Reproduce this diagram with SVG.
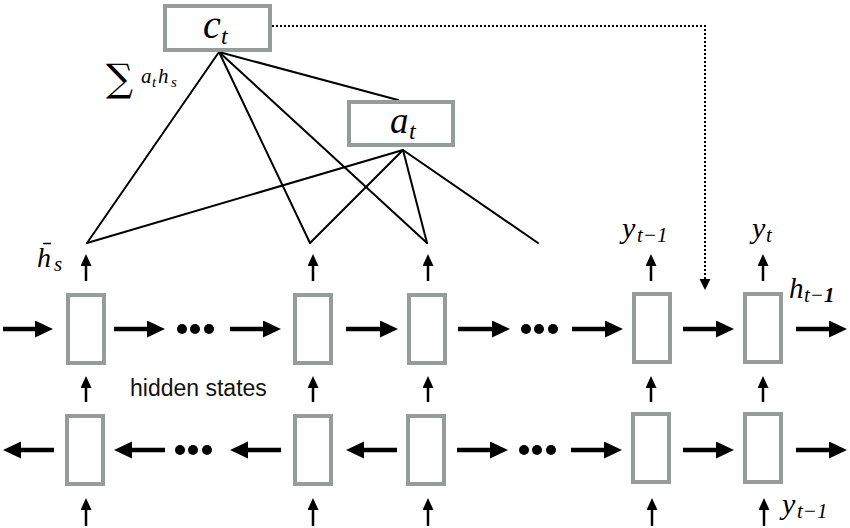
<svg xmlns="http://www.w3.org/2000/svg" width="850" height="528" viewBox="0 0 850 528">
<style>
.box{fill:#fff;stroke:#969c99;stroke-width:4}
.big{stroke:#000;stroke-width:4.5;fill:none;marker-end:url(#bigHead)}
.small{stroke:#000;stroke-width:2.5;fill:none;marker-end:url(#smallHead)}
.edge{stroke:#000;stroke-width:2;fill:none;stroke-linecap:round}
.dot{fill:#000}
.m{font-family:"Liberation Serif","Times New Roman",serif;font-style:italic;fill:#000}
.sans{font-family:"Liberation Sans",Arial,sans-serif;fill:#111}
</style>
<defs>
<marker id="bigHead" markerUnits="userSpaceOnUse" markerWidth="20" markerHeight="18" refX="2" refY="8.5" orient="auto">
<path d="M0,0 L18,8.5 L0,17 z" fill="#000"/>
</marker>
<marker id="smallHead" markerUnits="userSpaceOnUse" markerWidth="14" markerHeight="12" refX="2" refY="5.5" orient="auto">
<path d="M0,0 L12,5.5 L0,11 z" fill="#000"/>
</marker>
<marker id="dotHead" markerUnits="userSpaceOnUse" markerWidth="13" markerHeight="12" refX="1" refY="5.5" orient="auto">
<path d="M0,0 L11,5.5 L0,11 z" fill="#000"/>
</marker>
</defs>
<rect width="850" height="528" fill="#fff"/>

<g id="connectors">
<line class="edge" x1="219" y1="52" x2="87" y2="243"/>
<line class="edge" x1="219" y1="52" x2="310" y2="243"/>
<line class="edge" x1="219" y1="52" x2="427" y2="243"/>
<line class="edge" x1="219" y1="52" x2="398" y2="100"/>
<line class="edge" x1="403" y1="150" x2="87" y2="243"/>
<line class="edge" x1="403" y1="150" x2="310" y2="243"/>
<line class="edge" x1="403" y1="150" x2="427" y2="243"/>
<line class="edge" x1="403" y1="150" x2="538" y2="243"/>
<path d="M272,26 H705 V280" fill="none" stroke="#000" stroke-width="2" stroke-dasharray="2 2" marker-end="url(#dotHead)"/>
<line class="big" x1="3" y1="329" x2="37" y2="329"/>
<line class="big" x1="114" y1="329" x2="149" y2="329"/>
<line class="big" x1="230" y1="329" x2="265" y2="329"/>
<line class="big" x1="346" y1="329" x2="382" y2="329"/>
<line class="big" x1="458" y1="329" x2="494" y2="329"/>
<line class="big" x1="572" y1="329" x2="607" y2="329"/>
<line class="big" x1="683" y1="329" x2="718" y2="329"/>
<line class="big" x1="796" y1="329" x2="831" y2="329"/>
<line class="big" x1="54" y1="450" x2="19" y2="450"/>
<line class="big" x1="165" y1="450" x2="130" y2="450"/>
<line class="big" x1="281" y1="450" x2="246" y2="450"/>
<line class="big" x1="397" y1="450" x2="362" y2="450"/>
<line class="big" x1="457" y1="450" x2="492" y2="450"/>
<line class="big" x1="571" y1="450" x2="606" y2="450"/>
<line class="big" x1="683" y1="450" x2="718" y2="450"/>
<line class="big" x1="796" y1="450" x2="831" y2="450"/>
<line class="small" x1="86" y1="281" x2="86" y2="264"/>
<line class="small" x1="313" y1="281" x2="313" y2="264"/>
<line class="small" x1="428" y1="281" x2="428" y2="264"/>
<line class="small" x1="651" y1="281" x2="651" y2="264"/>
<line class="small" x1="763" y1="281" x2="763" y2="264"/>
<line class="small" x1="86" y1="402" x2="86" y2="386"/>
<line class="small" x1="313" y1="402" x2="313" y2="386"/>
<line class="small" x1="428" y1="402" x2="428" y2="386"/>
<line class="small" x1="651" y1="402" x2="651" y2="386"/>
<line class="small" x1="763" y1="402" x2="763" y2="386"/>
<line class="small" x1="86" y1="526" x2="86" y2="508"/>
<line class="small" x1="313" y1="526" x2="313" y2="508"/>
<line class="small" x1="428" y1="526" x2="428" y2="508"/>
<line class="small" x1="652" y1="526" x2="652" y2="508"/>
<line class="small" x1="764" y1="526" x2="764" y2="508"/>
</g>

<g id="ellipsis">
<circle class="dot" cx="182" cy="329" r="5"/><circle class="dot" cx="195" cy="329" r="5"/><circle class="dot" cx="209" cy="329" r="5"/>
<circle class="dot" cx="526" cy="329" r="5"/><circle class="dot" cx="539" cy="329" r="5"/><circle class="dot" cx="553" cy="329" r="5"/>
<circle class="dot" cx="180" cy="450" r="5"/><circle class="dot" cx="193" cy="450" r="5"/><circle class="dot" cx="207" cy="450" r="5"/>
<circle class="dot" cx="524" cy="450" r="5"/><circle class="dot" cx="537" cy="450" r="5"/><circle class="dot" cx="551" cy="450" r="5"/>
</g>

<g id="node-ct">
<rect class="box" x="165" y="6" width="105" height="44"/>
<text class="m" x="203" y="38" font-size="40">c</text>
<text class="m" x="221" y="44" font-size="24">t</text>
</g>

<g id="node-at">
<rect class="box" x="349" y="102" width="104" height="43"/>
<text class="m" x="390" y="133" font-size="37">a</text>
<text class="m" x="409" y="139" font-size="24">t</text>
</g>

<g id="fwd-1"><rect class="box" x="68" y="295" width="36" height="68"/></g>
<g id="fwd-2"><rect class="box" x="295" y="295" width="36" height="68"/></g>
<g id="fwd-3"><rect class="box" x="409" y="295" width="36" height="68"/></g>
<g id="fwd-4"><rect class="box" x="634" y="294" width="36" height="68"/></g>
<g id="fwd-5"><rect class="box" x="745" y="294" width="36" height="68"/></g>
<g id="bwd-1"><rect class="box" x="67" y="416" width="36" height="68"/></g>
<g id="bwd-2"><rect class="box" x="295" y="416" width="36" height="68"/></g>
<g id="bwd-3"><rect class="box" x="408" y="416" width="36" height="68"/></g>
<g id="bwd-4"><rect class="box" x="633" y="414" width="36" height="68"/></g>
<g id="bwd-5"><rect class="box" x="745" y="414" width="36" height="68"/></g>

<g id="labels">
<text x="106" y="91" font-size="38" font-family="'DejaVu Serif','Liberation Serif',serif">∑</text>
<text class="m" x="141" y="83" font-size="21">a</text>
<text class="m" x="152" y="87" font-size="15">t</text>
<text class="m" x="158" y="83" font-size="21">h</text>
<text class="m" x="171" y="87" font-size="15">s</text>

<line x1="43" y1="243.5" x2="51" y2="243.5" stroke="#000" stroke-width="1.5"/>
<text class="m" x="37" y="267" font-size="28">h</text>
<text class="m" x="54" y="271" font-size="21">s</text>

<text class="sans" x="130" y="396" font-size="23">hidden states</text>

<text class="m" x="622" y="238" font-size="30">y</text>
<text class="m" x="637" y="242" font-size="21">t−1</text>

<text class="m" x="752" y="238" font-size="30">y</text>
<text class="m" x="766" y="242" font-size="21">t</text>

<text class="m" x="789" y="298" font-size="29">h</text>
<text class="m" x="804" y="302" font-size="21">t−<tspan font-weight="bold">1</tspan></text>

<text class="m" x="782" y="514" font-size="30">y</text>
<text class="m" x="797" y="518" font-size="21">t−1</text>
</g>
</svg>
